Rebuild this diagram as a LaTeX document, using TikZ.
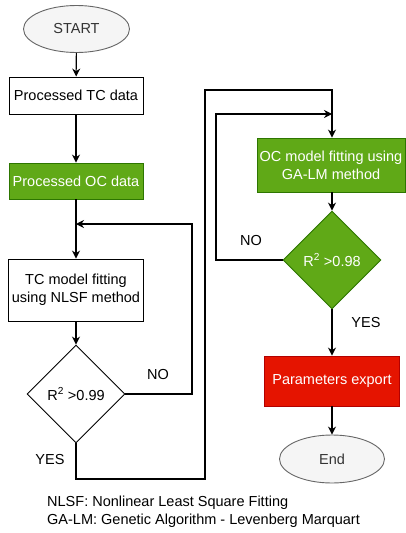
\documentclass[tikz,border=0pt]{standalone}
\usepackage{fontspec}
\setmainfont{Liberation Sans}
\usetikzlibrary{shapes.geometric,arrows.meta}
\definecolor{gfill}{HTML}{60A917}
\definecolor{gline}{HTML}{2D7600}
\definecolor{rfill}{HTML}{E51400}
\definecolor{rline}{HTML}{B20000}
\definecolor{efill}{HTML}{F5F5F5}
\definecolor{eline}{HTML}{666666}
\definecolor{etext}{HTML}{333333}
\tikzset{
  base/.style={font=\fontsize{14.5}{18}\selectfont, inner sep=0pt, align=center},
  whitebox/.style={base, draw=black, fill=white, line width=0.9pt, rectangle},
  greenbox/.style={base, draw=gline, fill=gfill, text=white, line width=0.9pt, rectangle},
  redbox/.style={base, draw=rline, fill=rfill, text=white, line width=0.9pt, rectangle},
  term/.style={base, ellipse, draw=eline, fill=efill, text=etext, line width=0.9pt},
  dia/.style={base, diamond, minimum width=98pt, minimum height=98pt, line width=0.9pt},
  lbl/.style={font=\fontsize{14.5}{18}\selectfont, inner sep=0pt},
  arr/.style={line width=1.1pt, -{Stealth[length=8pt,width=8pt]}},
  ln/.style={line width=1.1pt}
}
\begin{document}
\begin{tikzpicture}[x=1pt,y=-1pt]
\useasboundingbox[fill=white] (0,0) rectangle (406,533);
\node[term, minimum width=106pt, minimum height=47pt] (start) at (76.5,29) {START};
\node[whitebox, minimum width=134pt, minimum height=37pt] (tc) at (76,95.5) {Processed TC data};
\node[greenbox, minimum width=134pt, minimum height=36pt] (oc) at (76,181) {Processed OC data};
\node[whitebox, minimum width=135pt, minimum height=62pt] (tcm) at (76,290) {TC model fitting\\using NLSF method};
\node[dia, draw=black, fill=white] (d1) at (76,394) {R\textsuperscript{2} >0.99};
\node[greenbox, minimum width=148pt, minimum height=54pt] (ocm) at (331,165) {OC model fitting using\\GA-LM method};
\node[dia, draw=gline, fill=gfill, text=white] (d2) at (332,260) {R\textsuperscript{2} >0.98};
\node[redbox, minimum width=135pt, minimum height=50pt] (pe) at (332,381) {Parameters export};
\node[term, minimum width=105pt, minimum height=48pt] (end) at (332,459) {End};

\coordinate (j1) at (76,224);
\coordinate (n1) at (192,224);
\coordinate (y1) at (76,479);
\coordinate (y2) at (205,90);
\coordinate (j2) at (332,114);
\coordinate (n2) at (216,114);

\draw[arr] (start) -- (tc);
\draw[arr] (tc) -- (oc);
\draw[arr] (oc) -- (tcm);
\draw[arr] (tcm) -- (d1);
\draw[arr] (d1.east) -| (n1) -- (j1);
\draw[arr] (d1.south) -- (y1) -| (y2) -| (ocm.north -| d2.north);
\draw[arr] (d2.west) -| (n2) -- (j2);
\draw[arr] (ocm.south -| d2.north) -- (d2.north);
\draw[arr] (d2.south) -- (pe.north -| d2.south);
\draw[arr] (pe.south -| end.north) -- (end.north);

\node[lbl] (no1) at (158,375) {NO};
\node[lbl] (yes1) at (50,460) {YES};
\node[lbl] (no2) at (251,241) {NO};
\node[lbl] (yes2) at (366,323) {YES};

\node[lbl, anchor=west, align=left, font=\fontsize{14.5}{18}\selectfont] (note) at (47,512) {NLSF: Nonlinear Least Square Fitting\\GA-LM: Genetic Algorithm - Levenberg Marquart};
\end{tikzpicture}
\end{document}
